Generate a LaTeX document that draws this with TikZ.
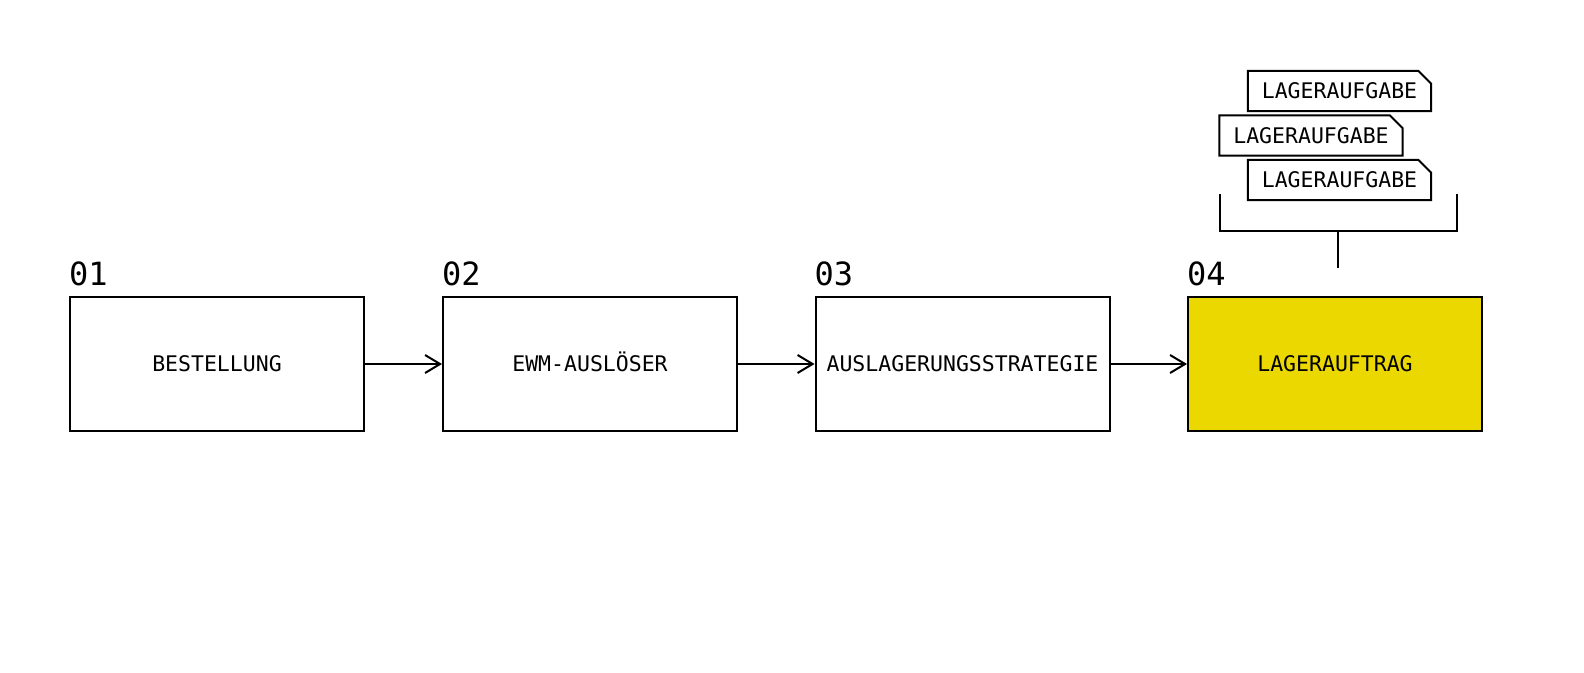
\documentclass[tikz,border=0pt]{standalone}
\usepackage{fontspec}
\setmonofont{DejaVu Sans Mono}
\usetikzlibrary{arrows.meta}
\definecolor{signal}{RGB}{234,216,0}

\tikzset{
    stepbox/.style={draw, line width=2pt, minimum width=294pt, minimum height=134pt,
        inner sep=0pt, text height=15.7pt, text depth=0pt,
        font=\ttfamily\fontsize{21.5}{24}\selectfont},
    stepnum/.style={anchor=base west, inner sep=0pt, font=\ttfamily\fontsize{32}{36}\selectfont},
    tag/.style={minimum width=183pt, minimum height=40pt, inner sep=0pt,
        text height=15.7pt, text depth=0pt,
        font=\ttfamily\fontsize{21.5}{24}\selectfont},
    flow/.style={line width=2pt, -{Straight Barb[length=15pt, width=18pt, line width=2pt]}}
}

\begin{document}
\begin{tikzpicture}[x=1pt, y=-1pt]
    \useasboundingbox (0,0) rectangle (1584,672);

    % Define the process steps
    \node[stepbox] (b1) at (217,364) {BESTELLUNG};
    \node[stepbox] (b2) at (590,364) {EWM-AUSLÖSER};
    \node[stepbox] (b3) at (962.5,364) {AUSLAGERUNGSSTRATEGIE};
    \node[stepbox, fill=signal] (b4) at (1335,364) {LAGERAUFTRAG};

    % Label steps
    \foreach \i in {1,...,4} {
        \node[stepnum] at ([yshift=11pt]b\i.north west) {0\i};
    }

    % Draw arrows
    \draw[flow] (b1) -- (b2);
    \draw[flow] (b2) -- (b3);
    \draw[flow] (b3) -- (b4);

    % Tasks above the order
    \node[tag] (t1) at (1339.5,91) {LAGERAUFGABE};
    \node[tag] (t2) at (1311,135.5) {LAGERAUFGABE};
    \node[tag] (t3) at (1339.5,180) {LAGERAUFGABE};
    \foreach \t in {t1,t2,t3} {
        \draw[line width=2pt, line join=miter] (\t.south west) -- (\t.north west)
            -- ([xshift=-13pt]\t.north east) -- ([yshift=-13pt]\t.north east)
            -- (\t.south east) -- cycle;
    }

    % Bracket
    \coordinate (bl) at (1220,194);
    \coordinate (br) at (1457,194);
    \coordinate (bm) at (1338,231);
    \coordinate (bs) at (1338,268);
    \draw[line width=2pt] (bl) |- (bm) -| (br);
    \draw[line width=2pt] (bm) -- (bs);
\end{tikzpicture}
\end{document}
